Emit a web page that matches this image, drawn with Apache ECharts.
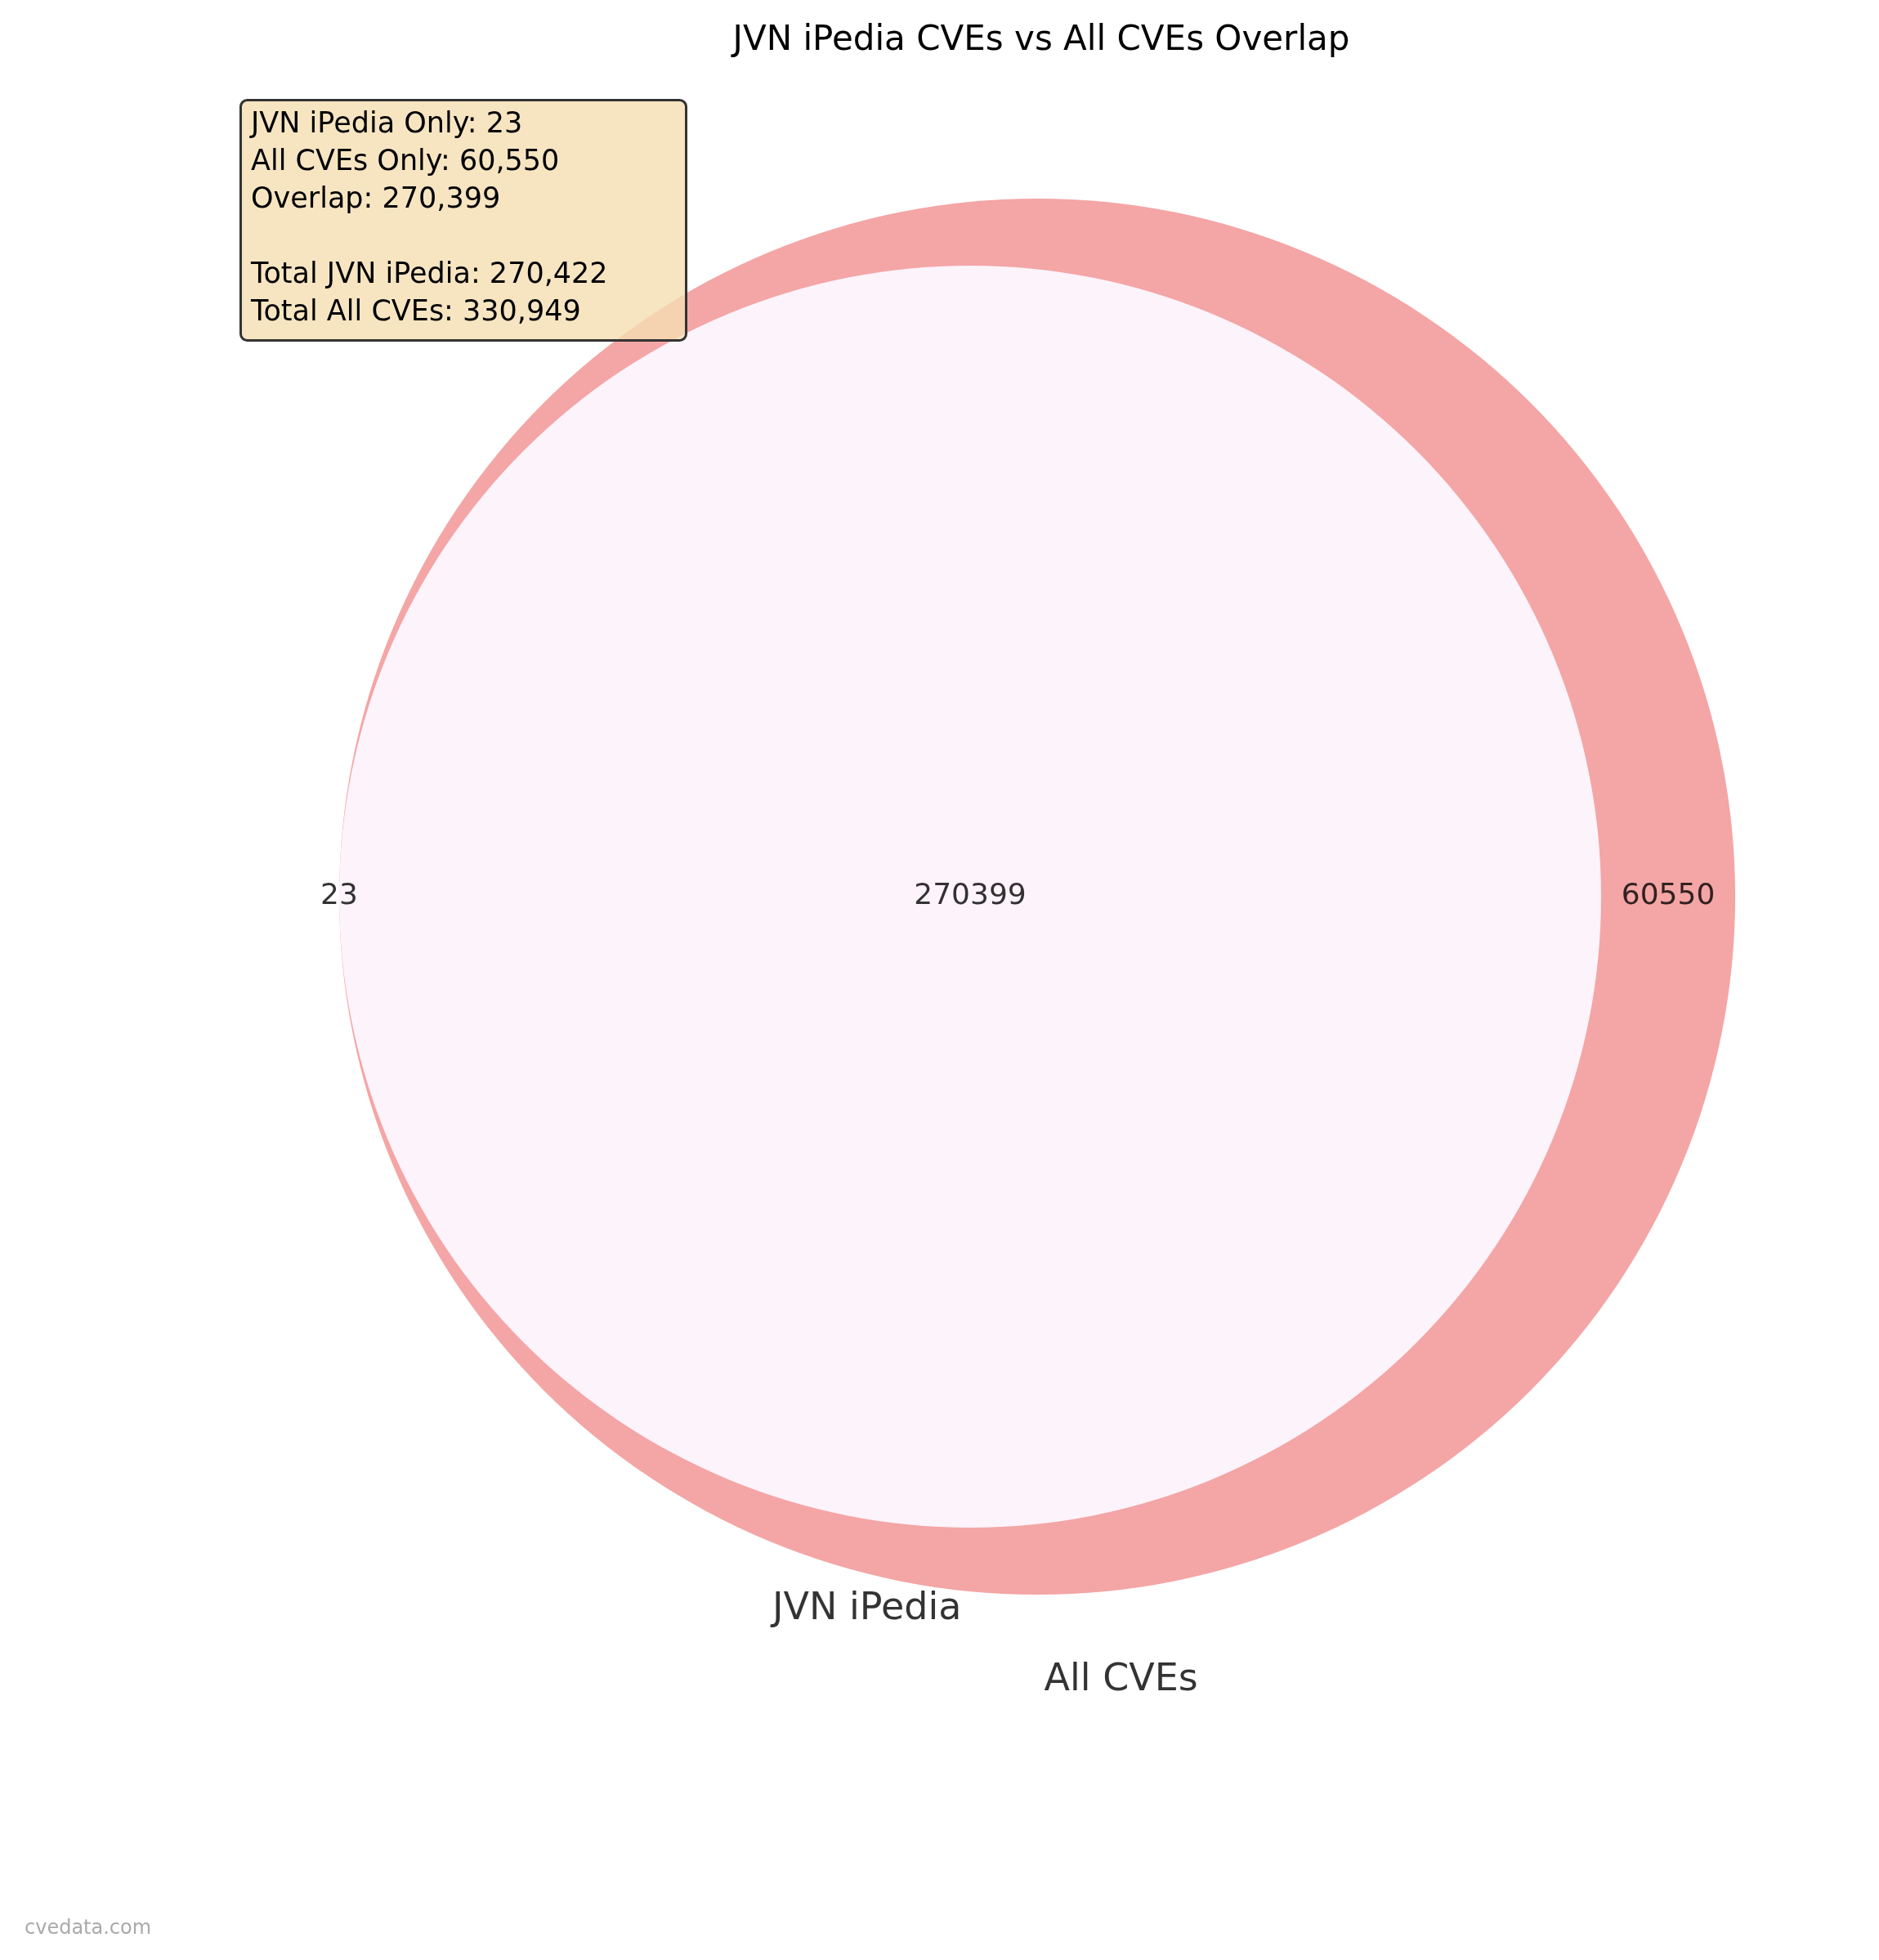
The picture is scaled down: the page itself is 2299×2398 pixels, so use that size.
<!DOCTYPE html>
<html><head><meta charset="utf-8">
<script src="https://cdn.jsdelivr.net/npm/echarts@6/dist/echarts.min.js"></script>
<style>html,body{margin:0;padding:0;background:#fff}#c{width:2299px;height:2398px}</style>
</head><body><div id="c"></div>
<script>
const setNames = ['JVN iPedia', 'All CVEs'];
const onlyA = 23;        // JVN iPedia only
const onlyB = 60550;     // All CVEs only
const overlap = 270399;
const totalA = onlyA + overlap;
const totalB = onlyB + overlap;

const rA = Math.sqrt(totalA / Math.PI);
const rB = Math.sqrt(totalB / Math.PI);
const dAB = rB - rA; // nearly contained
const circles = [
  {name: setNames[1], cx: dAB, r: rB, color: '#f4a5a5'},
  {name: setNames[0], cx: 0, r: rA, color: '#fdf3fb'}
];
const regionLabels = [
  {text: String(onlyA), x: -rA},
  {text: String(overlap), x: 0},
  {text: String(onlyB), x: (rA + dAB + rB) / 2}
];
const setLabels = [
  {text: setNames[0], x: -48, y: -rA - 38},
  {text: setNames[1], x: dAB + 39, y: -rB - 40}
];
const pxPerUnit = 772 / rA;
const F = 'DejaVu Sans';
const chart = echarts.init(document.getElementById('c'));
chart.setOption({
  animation: false,
  backgroundColor: '#fff',
  title: {text: 'JVN iPedia CVEs vs All CVEs Overlap', left: 1269, top: 24, textAlign: 'center',
    textStyle: {fontFamily: F, fontSize: 42, fontWeight: 'normal', color: '#000'}},
  grid: {left: 0, right: 0, top: 0, bottom: 0},
  xAxis: {type: 'value', min: -1187 / pxPerUnit, max: (2299 - 1187) / pxPerUnit, show: false},
  yAxis: {type: 'value', min: -(2398 - 1097) / pxPerUnit, max: 1097 / pxPerUnit, show: false},
  series: [
    {type: 'custom', data: circles.map(c => [c.cx, 0, c.r]),
      renderItem: (params, api) => {
        const c = circles[params.dataIndex];
        const p = api.coord([api.value(0), api.value(1)]);
        const r = api.size([api.value(2), 0])[0];
        return {type: 'circle', shape: {cx: p[0], cy: p[1], r: r}, style: {fill: c.color}};
      }},
    {type: 'scatter', symbolSize: 0, data: regionLabels.map(l => ({value: [l.x, 0], name: l.text})),
      label: {show: true, position: 'inside', formatter: p => p.name, fontFamily: F, fontSize: 36, color: '#000'}},
    {type: 'scatter', symbolSize: 0, data: setLabels.map(l => ({value: [l.x, l.y], name: l.text})),
      label: {show: true, position: 'inside', formatter: p => p.name, fontFamily: F, fontSize: 46, color: '#000'}}
  ],
  graphic: [
    {type: 'rect', left: 293, top: 121, z: 100, shape: {width: 545, height: 294, r: 8},
      style: {fill: 'rgba(245,222,179,0.8)', stroke: '#333', lineWidth: 3}},
    {type: 'text', left: 307, top: 130, z: 101,
      style: {text: 'JVN iPedia Only: 23\nAll CVEs Only: 60,550\nOverlap: 270,399\n\nTotal JVN iPedia: 270,422\nTotal All CVEs: 330,949',
        font: '35px "DejaVu Sans"', lineHeight: 46, fill: '#000'}},
    {type: 'text', left: 30, top: 2348, style: {text: 'cvedata.com', font: '24px "DejaVu Sans"', fill: '#aaa'}}
  ]
});
</script></body></html>
